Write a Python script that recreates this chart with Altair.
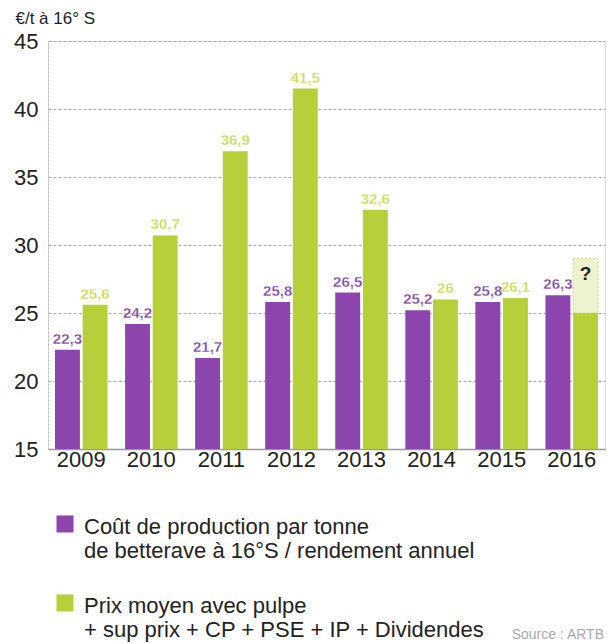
import altair as alt
import pandas as pd

years = ["2009", "2010", "2011", "2012", "2013", "2014", "2015", "2016"]
cout = [22.3, 24.2, 21.7, 25.8, 26.5, 25.2, 25.8, 26.3]
prix = [25.6, 30.7, 36.9, 41.5, 32.6, 26.0, 26.1, 25.0]
prix_labels = ["25,6", "30,7", "36,9", "41,5", "32,6", "26", "26,1", ""]
cout_labels = ["22,3", "24,2", "21,7", "25,8", "26,5", "25,2", "25,8", "26,3"]
series_names = [
    "Coût de production par tonne|de betterave à 16°S / rendement annuel",
    "Prix moyen avec pulpe|+ sup prix + CP + PSE + IP + Dividendes",
]
uncertain_year = "2016"
uncertain_low, uncertain_high = 25.0, 29.0

PURPLE = "#8c45ad"
GREEN = "#b7cf3a"
PURPLE_TXT = "#7d3aa0"
GREEN_TXT = "#c6da4e"
FONT = "Liberation Sans"

rows = []
for i, y in enumerate(years):
    rows.append({"year": y, "serie": series_names[0], "value": cout[i], "label": cout_labels[i]})
    rows.append({"year": y, "serie": series_names[1], "value": prix[i], "label": prix_labels[i]})
df = pd.DataFrame(rows)

unc = pd.DataFrame([{"year": uncertain_year, "serie": series_names[1], "lo": uncertain_low,
                     "hi": uncertain_high, "mid": 27.9, "q": "?"}])

xscale = alt.Scale(domain=years, paddingInner=0.25, paddingOuter=0.1)
offscale = alt.Scale(domain=series_names, paddingInner=0.1)
yscale = alt.Scale(domain=[15, 45], zero=False, nice=False)
color = alt.Scale(domain=series_names, range=[PURPLE, GREEN])

x = alt.X("year:N", scale=xscale, sort=years, title=None,
          axis=alt.Axis(labelAngle=0, labelFontSize=22, labelFont=FONT, labelColor="#222",
                        labelAlign="center", bandPosition=0.5,
                        labelPadding=10, ticks=False, domainColor="#999", domainWidth=1.5))
xo = alt.XOffset("serie:N", scale=offscale, sort=series_names)

bars = alt.Chart(df).mark_bar().encode(
    x=x,
    xOffset=xo,
    y=alt.Y("value:Q", scale=yscale, title="€/t à 16° S",
            axis=alt.Axis(values=[15, 20, 25, 30, 35, 40, 45], labelFontSize=22, labelFont=FONT,
                          labelColor="#222", ticks=False, labelPadding=10,
                          grid=True, gridColor="#aaa", gridDash=[3, 2], gridWidth=1,
                          domainColor="#bbb", domainDash=[2, 2],
                          titleAngle=0, titleX=-33, titleY=-23, titleAlign="left",
                          titleBaseline="middle", titleFontSize=17, titleFont=FONT,
                          titleFontWeight="normal", titleColor="#222")),
    y2=alt.datum(15),
    color=alt.Color("serie:N", scale=color, sort=series_names,
                    legend=alt.Legend(orient="none", legendX=6, legendY=465, direction="vertical",
                                      title=None,
                                      symbolType="M-1,-0.18L1,-0.18L1,1.82L-1,1.82Z",
                                      symbolSize=289,
                                      symbolStrokeWidth=0, labelFontSize=22, labelFont=FONT,
                                      labelColor="#222", labelLimit=600, rowPadding=23,
                                      labelExpr="split(datum.label, '|')",
                                      labelBaseline="top", labelOffset=8)),
)

hatch = alt.Chart(unc).mark_bar(color="#eef3cf", stroke="#c9d77a", strokeDash=[2, 2],
                                 strokeWidth=1).encode(
    x=alt.X("year:N", scale=xscale, sort=years),
    xOffset=alt.XOffset("serie:N", scale=offscale, sort=series_names),
    y=alt.Y("lo:Q", scale=yscale),
    y2="hi:Q",
)

qmark = alt.Chart(unc).mark_text(fontSize=19, fontWeight="bold", font=FONT, color="#222").encode(
    x=alt.X("year:N", scale=xscale, sort=years),
    xOffset=alt.XOffset("serie:N", scale=offscale, sort=series_names),
    y=alt.Y("mid:Q", scale=yscale),
    text="q:N",
)

labels = alt.Chart(df).mark_text(dy=-11, fontSize=15, fontWeight="bold", font=FONT,
                                 stroke="white", strokeWidth=0.3).encode(
    x=alt.X("year:N", scale=xscale, sort=years),
    xOffset=alt.XOffset("serie:N", scale=offscale, sort=series_names),
    y=alt.Y("value:Q", scale=yscale),
    text="label:N",
    color=alt.Color("serie:N", scale=alt.Scale(domain=series_names, range=[PURPLE_TXT, GREEN_TXT]),
                    legend=None),
)

source = alt.Chart(pd.DataFrame({"t": ["Source : ARTB"]})).mark_text(
    fontSize=14, font=FONT, color="#aaa", align="right", baseline="middle").encode(
    x=alt.value(556), y=alt.value(594), text="t:N")

chart = alt.layer(hatch, bars, qmark, labels, source).resolve_scale(color="independent").properties(
    width=557, height=408,
    autosize=alt.AutoSizeParams(type="none"),
    padding={"left": 48, "top": 41, "right": 5, "bottom": 195},
).configure_view(stroke=None).configure(background="white")

chart.save("out.html", embed_options={"renderer": "svg", "actions": False})
